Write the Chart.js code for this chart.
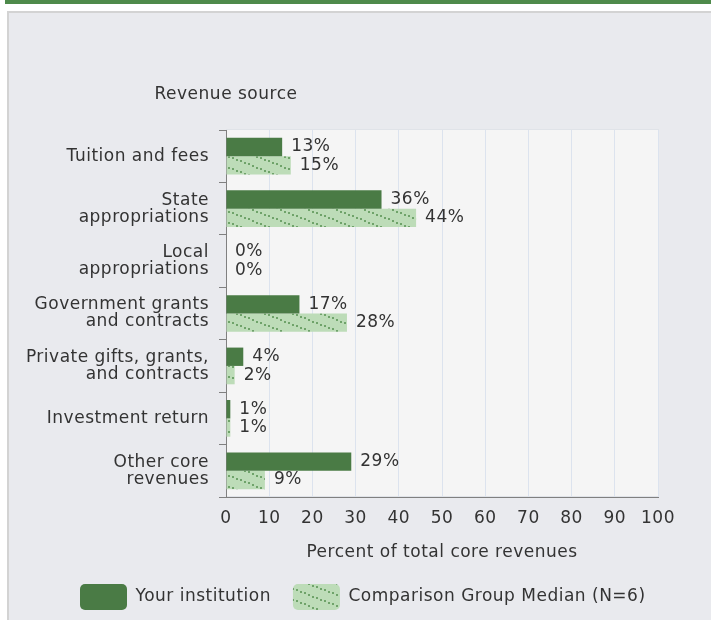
<!DOCTYPE html>
<html>
<head>
<meta charset="utf-8">
<title>Revenue source</title>
<script src="https://cdn.jsdelivr.net/npm/chart.js@4/dist/chart.umd.min.js"></script>
<style>
  html, body { margin: 0; padding: 0; background: #fff; width: 711px; height: 620px; overflow: hidden; }
  #topbar { position: absolute; left: 5px; top: 0; width: 706px; height: 4px; background: #4e8a4b; }
  #panel { position: absolute; left: 7px; top: 11px; width: 720px; height: 640px; background: #e9eaee;
           border-top: 2px solid #d3d3d3; border-left: 2px solid #d3d3d3; }
  #chart { position: absolute; left: 0; top: 0; }
</style>
</head>
<body>
<div id="topbar"></div>
<div id="panel"></div>
<canvas id="chart" width="711" height="620"></canvas>
<script>
// data
const categories = [
    'Tuition and fees',
    ['State', 'appropriations'],
    ['Local', 'appropriations'],
    ['Government grants', 'and contracts'],
    ['Private gifts, grants,', 'and contracts'],
    'Investment return',
    ['Other core', 'revenues']
];
const yourInstitution = [13, 36, 0, 17, 4, 1, 29];
const groupMedian = [15, 44, 0, 28, 2, 1, 9];
const seriesNames = ['Your institution', 'Comparison Group Median (N=6)'];
const axisMin = 0;
const axisMax = 100;
const axisStep = 10;
const xTitle = 'Percent of total core revenues';
const yTitle = 'Revenue source';

const textColor = '#333';
const font = { family: 'DejaVu Sans', size: 17, lineHeight: 1 };

// light green fill with dotted diagonal streaks
function makeHatch() {
    const c = document.createElement('canvas');
    c.width = 28;
    c.height = 11;
    const g = c.getContext('2d');
    g.fillStyle = '#bddcb8';
    g.fillRect(0, 0, 28, 11);
    g.fillStyle = '#6fa36a';
    for (let x = 0; x < 28; x += 4) {
        g.fillRect(x, Math.round(x * 11 / 28), 2, 2);
    }
    return g.createPattern(c, 'repeat');
}

const ctx = document.getElementById('chart').getContext('2d');

// plot background, top title and value labels
const extras = {
    id: 'extras',
    beforeUpdate(chart) {
        chart.ctx.letterSpacing = '0.5px';
    },
    afterLayout(chart) {
        // legend starts under the label column, not at the canvas edge
        chart.legend.left += 58;
        chart.legend.right += 58;
    },
    beforeDraw(chart) {
        const c = chart.ctx;
        const a = chart.chartArea;
        c.letterSpacing = '0.5px';
        c.save();
        c.fillStyle = '#f5f5f5';
        c.fillRect(a.left, a.top, a.right - a.left, a.bottom - a.top);
        c.strokeStyle = '#e0e3e8';
        c.lineWidth = 1;
        c.strokeRect(a.left + 0.5, a.top - 0.5, a.right - a.left, a.bottom - a.top);
        c.restore();
    },
    afterDatasetsDraw(chart) {
        const c = chart.ctx;
        c.save();
        c.font = '17px "DejaVu Sans"';
        c.fillStyle = textColor;
        c.textAlign = 'left';
        c.textBaseline = 'middle';
        chart.data.datasets.forEach((ds, i) => {
            chart.getDatasetMeta(i).data.forEach((bar, j) => {
                c.fillText(ds.data[j] + '%', bar.x + 9, bar.y);
            });
        });
        c.restore();
    },
    afterDraw(chart) {
        const c = chart.ctx;
        c.save();
        c.font = '17px "DejaVu Sans"';
        c.fillStyle = textColor;
        c.textAlign = 'center';
        c.textBaseline = 'middle';
        c.fillText(yTitle, chart.scales.y.right, chart.chartArea.top - 35);
        c.restore();
    }
};

new Chart(ctx, {
    type: 'bar',
    data: {
        labels: categories,
        datasets: [
            {
                label: seriesNames[0],
                data: yourInstitution,
                backgroundColor: '#4a7b45',
                borderWidth: 0
            },
            {
                label: seriesNames[1],
                data: groupMedian,
                backgroundColor: makeHatch(),
                borderWidth: 0
            }
        ]
    },
    options: {
        indexAxis: 'y',
        responsive: false,
        animation: false,
        devicePixelRatio: 1,
        categoryPercentage: 0.7,
        barPercentage: 1.0,
        layout: {
            padding: { left: 0, right: 53, top: 130, bottom: 0 }
        },
        scales: {
            x: {
                min: axisMin,
                max: axisMax,
                ticks: { stepSize: axisStep, padding: 13, color: textColor, font: font },
                grid: {
                    color: (c) => c.index === 0 ? 'rgba(0,0,0,0)' : '#dce3ee',
                    drawTicks: false
                },
                border: { color: '#808080' },
                title: {
                    display: true,
                    text: xTitle,
                    color: textColor,
                    font: font,
                    padding: { top: 0, bottom: 1 }
                },
                afterFit(scale) { scale.height = 65; }
            },
            y: {
                ticks: { padding: 10, color: textColor, font: font },
                grid: { drawOnChartArea: false, tickLength: 7, color: '#808080' },
                border: { color: '#808080' },
                afterFit(scale) { scale.width = 226; }
            }
        },
        plugins: {
            legend: {
                position: 'bottom',
                align: 'start',
                labels: {
                    boxWidth: 47,
                    boxHeight: 26,
                    padding: 22,
                    color: textColor,
                    font: font,
                    useBorderRadius: true,
                    borderRadius: 5
                }
            },
            tooltip: { enabled: false }
        }
    },
    plugins: [extras]
});
</script>
</body>
</html>
